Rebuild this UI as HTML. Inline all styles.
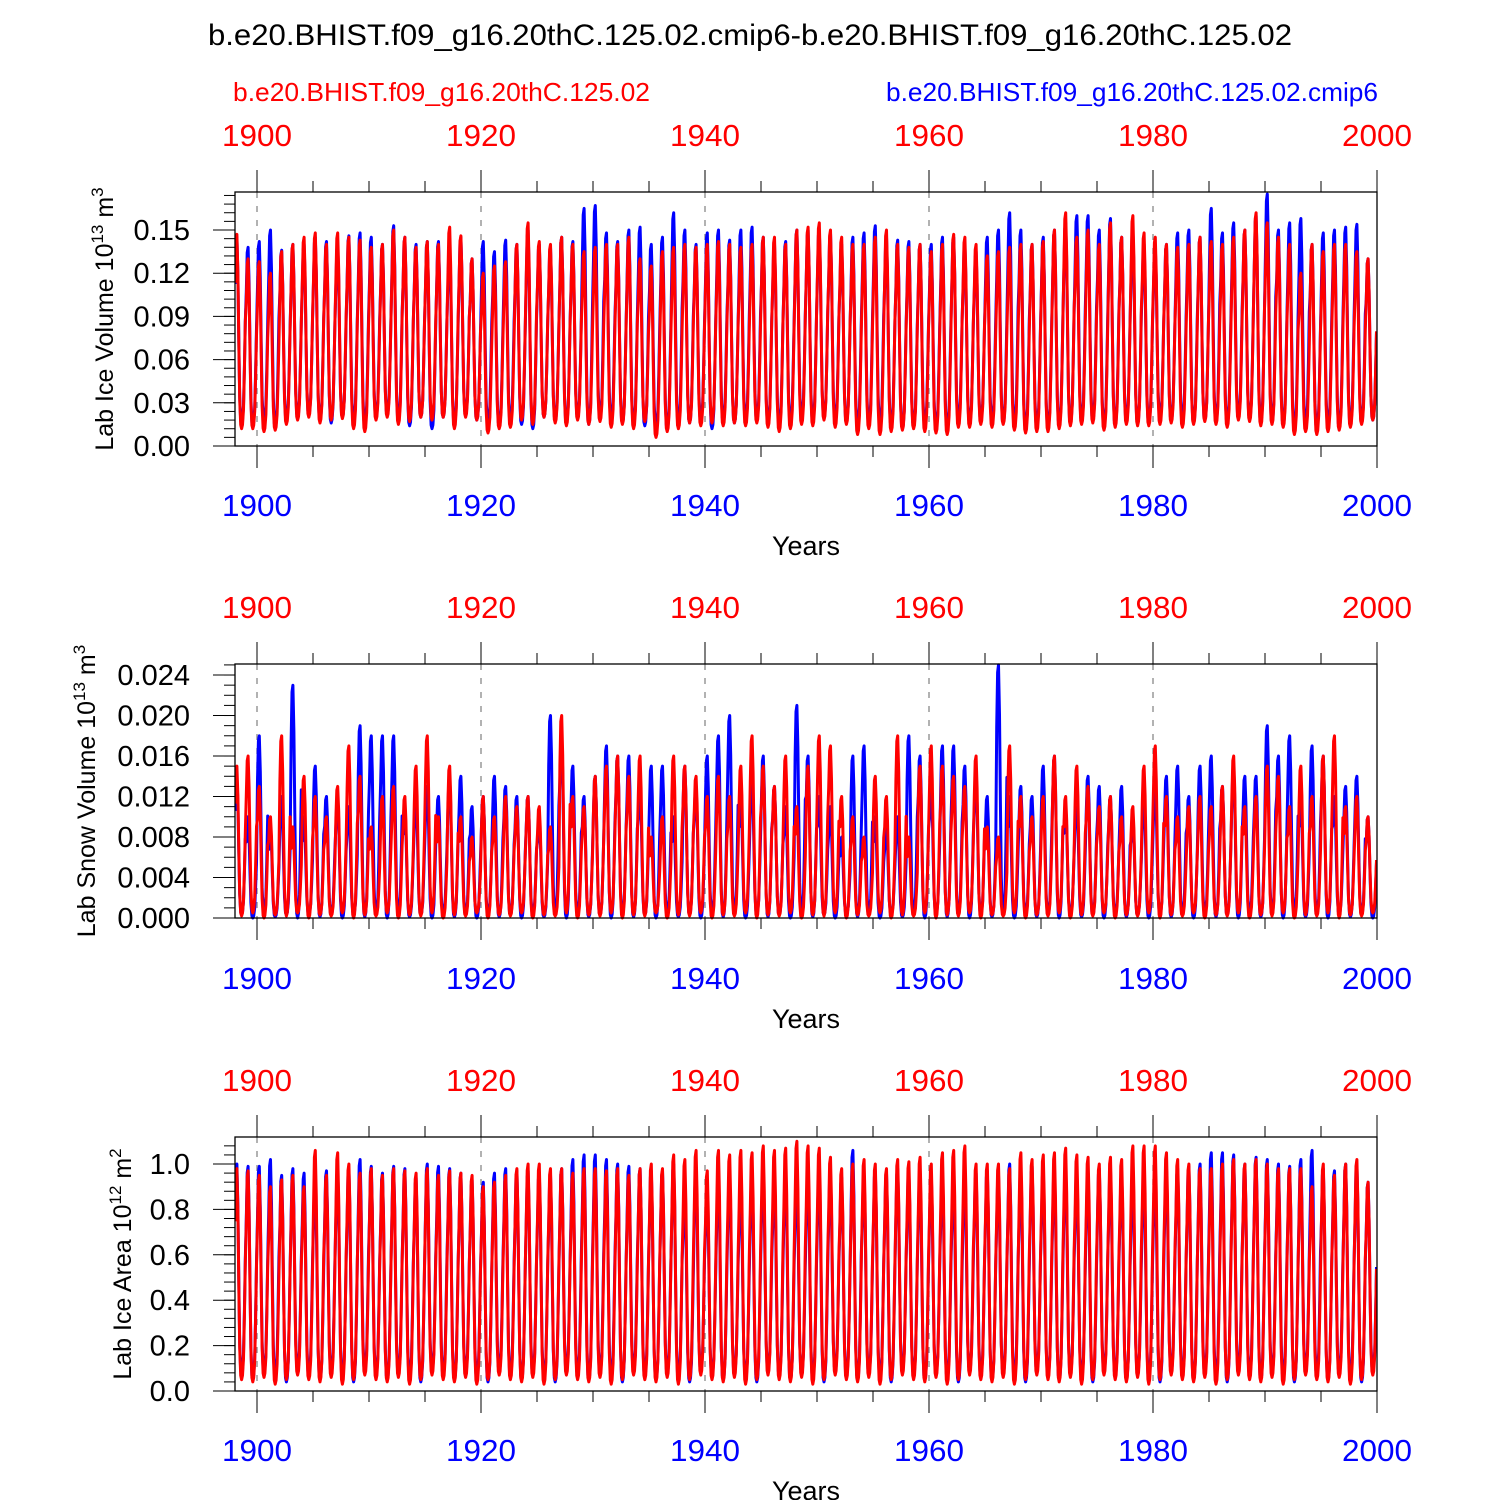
<!DOCTYPE html>
<html><head><meta charset="utf-8"><style>
html,body{margin:0;padding:0;background:#fff;width:1500px;height:1500px;overflow:hidden}
svg{display:block;font-family:"Liberation Sans",sans-serif}
</style></head><body>
<svg id="chart" width="1500" height="1500" viewBox="0 0 1500 1500">
<text x="750" y="45" text-anchor="middle" font-size="30" textLength="1084" lengthAdjust="spacingAndGlyphs">b.e20.BHIST.f09_g16.20thC.125.02.cmip6-b.e20.BHIST.f09_g16.20thC.125.02</text>
<text x="233" y="101" font-size="26" fill="#ff0000" textLength="417" lengthAdjust="spacingAndGlyphs">b.e20.BHIST.f09_g16.20thC.125.02</text>
<text x="1378" y="101" text-anchor="end" font-size="26" fill="#0000ff" textLength="492" lengthAdjust="spacingAndGlyphs">b.e20.BHIST.f09_g16.20thC.125.02.cmip6</text>
</svg>
<script>
// ---- data (annual peak / trough per year, 1898..1999) ----
const startYear = 1898;
const monthShape = [0.75,0.97,1.0,0.8,0.45,0.15,0.02,0.0,0.02,0.1,0.3,0.55];
const iceVolRedMax = [0.147,0.130,0.128,0.120,0.135,0.140,0.145,0.148,0.140,0.148,0.145,0.143,0.138,0.140,0.150,0.145,0.138,0.142,0.140,0.152,0.146,0.130,0.120,0.125,0.128,0.140,0.155,0.142,0.140,0.145,0.140,0.135,0.138,0.140,0.140,0.145,0.130,0.125,0.135,0.138,0.140,0.138,0.140,0.142,0.140,0.138,0.140,0.145,0.145,0.140,0.150,0.152,0.155,0.150,0.145,0.140,0.140,0.145,0.150,0.140,0.138,0.140,0.135,0.140,0.147,0.145,0.140,0.132,0.135,0.138,0.140,0.140,0.142,0.150,0.162,0.145,0.150,0.140,0.155,0.145,0.160,0.148,0.145,0.140,0.138,0.140,0.145,0.142,0.140,0.145,0.150,0.162,0.155,0.145,0.140,0.120,0.140,0.135,0.140,0.140,0.135,0.130];
const iceVolBlueMax = [0.145,0.138,0.142,0.150,0.136,0.140,0.140,0.145,0.142,0.140,0.146,0.148,0.145,0.140,0.153,0.145,0.140,0.142,0.142,0.140,0.145,0.130,0.142,0.135,0.143,0.140,0.150,0.140,0.138,0.145,0.142,0.165,0.167,0.148,0.142,0.150,0.152,0.140,0.145,0.162,0.150,0.140,0.148,0.150,0.143,0.150,0.152,0.145,0.140,0.142,0.150,0.150,0.150,0.148,0.140,0.145,0.148,0.153,0.145,0.143,0.142,0.140,0.140,0.145,0.145,0.140,0.135,0.145,0.150,0.162,0.150,0.140,0.145,0.150,0.155,0.160,0.160,0.150,0.158,0.145,0.150,0.140,0.138,0.140,0.148,0.150,0.145,0.165,0.148,0.155,0.150,0.160,0.175,0.150,0.155,0.158,0.140,0.148,0.150,0.152,0.154,0.130];
const iceVolRedMin = [0.012,0.012,0.010,0.011,0.015,0.018,0.020,0.016,0.018,0.019,0.012,0.010,0.018,0.020,0.015,0.017,0.020,0.018,0.020,0.012,0.020,0.018,0.009,0.012,0.013,0.018,0.015,0.020,0.016,0.014,0.018,0.015,0.017,0.013,0.015,0.012,0.017,0.006,0.010,0.012,0.016,0.014,0.016,0.014,0.016,0.014,0.016,0.013,0.010,0.012,0.015,0.014,0.018,0.013,0.015,0.008,0.012,0.008,0.010,0.011,0.012,0.010,0.009,0.008,0.013,0.013,0.015,0.013,0.015,0.011,0.009,0.010,0.010,0.012,0.014,0.015,0.016,0.011,0.013,0.015,0.014,0.014,0.015,0.016,0.013,0.015,0.017,0.015,0.013,0.018,0.017,0.014,0.015,0.013,0.008,0.010,0.008,0.010,0.011,0.013,0.015,0.018];
const iceVolBlueMin = [0.015,0.014,0.016,0.013,0.018,0.020,0.022,0.018,0.016,0.020,0.017,0.015,0.020,0.022,0.018,0.014,0.020,0.012,0.020,0.016,0.022,0.018,0.015,0.014,0.017,0.015,0.012,0.020,0.018,0.016,0.020,0.015,0.019,0.018,0.016,0.015,0.014,0.012,0.012,0.015,0.016,0.018,0.012,0.017,0.016,0.018,0.018,0.016,0.015,0.017,0.020,0.018,0.020,0.018,0.017,0.014,0.016,0.015,0.014,0.012,0.014,0.015,0.013,0.012,0.018,0.016,0.018,0.017,0.016,0.015,0.012,0.014,0.013,0.015,0.016,0.017,0.018,0.014,0.015,0.018,0.016,0.017,0.020,0.018,0.018,0.016,0.018,0.017,0.016,0.020,0.019,0.017,0.016,0.015,0.012,0.014,0.012,0.014,0.013,0.015,0.016,0.018];
const snowRedMax = [0.015,0.016,0.013,0.010,0.018,0.009,0.014,0.012,0.010,0.013,0.017,0.014,0.009,0.012,0.013,0.012,0.015,0.018,0.010,0.015,0.010,0.008,0.012,0.010,0.012,0.011,0.012,0.011,0.009,0.020,0.012,0.011,0.014,0.015,0.016,0.014,0.016,0.008,0.010,0.016,0.015,0.014,0.012,0.014,0.012,0.015,0.018,0.015,0.013,0.016,0.011,0.015,0.018,0.017,0.012,0.010,0.008,0.014,0.012,0.018,0.008,0.015,0.017,0.015,0.014,0.013,0.016,0.009,0.008,0.017,0.012,0.010,0.012,0.016,0.012,0.015,0.013,0.011,0.012,0.010,0.011,0.015,0.017,0.012,0.010,0.011,0.012,0.011,0.013,0.016,0.011,0.012,0.015,0.014,0.011,0.015,0.012,0.016,0.018,0.011,0.012,0.010];
const snowBlueMax = [0.014,0.010,0.018,0.009,0.012,0.023,0.010,0.015,0.012,0.012,0.011,0.019,0.018,0.018,0.018,0.011,0.012,0.013,0.012,0.014,0.014,0.011,0.012,0.014,0.013,0.012,0.012,0.010,0.020,0.018,0.015,0.012,0.014,0.017,0.016,0.016,0.013,0.015,0.015,0.010,0.015,0.013,0.016,0.018,0.020,0.012,0.014,0.016,0.013,0.011,0.021,0.016,0.012,0.011,0.008,0.016,0.017,0.010,0.009,0.010,0.018,0.016,0.013,0.017,0.017,0.015,0.014,0.012,0.025,0.012,0.013,0.012,0.015,0.016,0.011,0.012,0.014,0.013,0.012,0.013,0.010,0.012,0.013,0.014,0.015,0.012,0.015,0.016,0.013,0.015,0.014,0.014,0.019,0.016,0.018,0.012,0.017,0.016,0.012,0.013,0.014,0.010];
const snowRedMin = [0.0002,0.0005,0.0,0.0003,0.0002,0.0005,0.0,0.0003,0.0002,0.0005,0.0,0.0003,0.0002,0.0005,0.0,0.0003,0.0002,0.0005,0.0,0.0003,0.0002,0.0005,0.0,0.0003,0.0002,0.0005,0.0,0.0003,0.0002,0.0005,0.0,0.0003,0.0002,0.0005,0.0,0.0003,0.0002,0.0005,0.0,0.0003,0.0002,0.0005,0.0,0.0003,0.0002,0.0005,0.0,0.0003,0.0002,0.0005,0.0,0.0003,0.0002,0.0005,0.0,0.0003,0.0002,0.0005,0.0,0.0003,0.0002,0.0005,0.0,0.0003,0.0002,0.0005,0.0,0.0003,0.0002,0.0005,0.0,0.0003,0.0002,0.0005,0.0,0.0003,0.0002,0.0005,0.0,0.0003,0.0002,0.0005,0.0,0.0003,0.0002,0.0005,0.0,0.0003,0.0002,0.0005,0.0,0.0003,0.0002,0.0005,0.0,0.0003,0.0002,0.0005,0.0,0.0003,0.0002,0.0005];
const snowBlueMin = [0.0003,0.0,0.0004,0.0001,0.0003,0.0,0.0004,0.0001,0.0003,0.0,0.0004,0.0001,0.0003,0.0,0.0004,0.0001,0.0003,0.0,0.0004,0.0001,0.0003,0.0,0.0004,0.0001,0.0003,0.0,0.0004,0.0001,0.0003,0.0,0.0004,0.0001,0.0003,0.0,0.0004,0.0001,0.0003,0.0,0.0004,0.0001,0.0003,0.0,0.0004,0.0001,0.0003,0.0,0.0004,0.0001,0.0003,0.0,0.0004,0.0001,0.0003,0.0,0.0004,0.0001,0.0003,0.0,0.0004,0.0001,0.0003,0.0,0.0004,0.0001,0.0003,0.0,0.0004,0.0001,0.0003,0.0,0.0004,0.0001,0.0003,0.0,0.0004,0.0001,0.0003,0.0,0.0004,0.0001,0.0003,0.0,0.0004,0.0001,0.0003,0.0,0.0004,0.0001,0.0003,0.0,0.0004,0.0001,0.0003,0.0,0.0004,0.0001,0.0003,0.0,0.0004,0.0001,0.0003,0.0];
const areaRedMax = [0.98,0.97,0.95,0.90,0.93,0.95,0.90,1.06,0.95,1.05,1.00,0.96,0.98,0.95,0.98,0.97,0.96,0.98,0.95,0.97,0.96,0.95,0.90,0.92,0.95,0.98,1.00,1.00,0.98,0.98,0.96,0.98,0.98,0.97,0.98,0.95,0.98,1.00,0.98,1.04,1.02,1.06,0.97,1.06,1.04,1.06,1.05,1.08,1.06,1.07,1.10,1.08,1.07,1.03,0.98,1.00,1.02,1.00,0.98,1.02,1.01,1.03,1.00,1.05,1.06,1.08,1.00,1.00,1.00,0.98,1.05,1.02,1.04,1.05,1.07,1.04,1.03,1.00,1.03,1.02,1.08,1.08,1.08,1.05,1.02,1.00,0.98,0.98,1.00,1.02,1.00,1.02,1.00,0.98,0.98,0.98,0.90,1.00,0.95,1.00,1.02,0.92];
const areaBlueMax = [1.00,0.99,0.99,1.02,0.95,0.98,0.96,0.95,0.97,0.98,0.98,1.02,0.99,0.96,0.99,0.98,0.94,1.00,0.99,0.98,0.96,0.93,0.92,0.96,0.98,0.97,0.97,0.96,0.95,0.98,1.02,1.04,1.04,1.02,1.00,0.99,0.98,0.97,0.97,1.00,0.90,0.98,0.90,0.96,0.95,0.92,0.96,0.98,0.95,0.97,0.95,0.97,0.98,0.96,0.94,1.06,0.95,0.97,0.96,0.98,0.96,0.96,0.95,0.96,0.95,0.96,0.96,0.97,0.95,1.00,0.97,0.99,0.97,0.98,0.98,0.96,0.96,0.98,0.97,0.96,0.95,0.96,0.97,0.98,0.98,0.99,1.00,1.05,1.05,1.04,1.00,1.03,1.02,1.00,0.99,1.02,1.06,0.98,0.97,1.00,1.00,0.92];
const areaRedMin = [0.05,0.04,0.06,0.03,0.05,0.07,0.05,0.04,0.06,0.03,0.05,0.07,0.05,0.04,0.06,0.03,0.05,0.07,0.05,0.04,0.06,0.03,0.05,0.07,0.05,0.04,0.06,0.03,0.05,0.07,0.05,0.04,0.06,0.03,0.05,0.07,0.05,0.04,0.06,0.03,0.05,0.07,0.05,0.04,0.06,0.03,0.05,0.07,0.05,0.04,0.06,0.03,0.05,0.07,0.05,0.04,0.06,0.03,0.05,0.07,0.05,0.04,0.06,0.03,0.05,0.07,0.05,0.04,0.06,0.03,0.05,0.07,0.05,0.04,0.06,0.03,0.05,0.07,0.05,0.04,0.06,0.03,0.05,0.07,0.05,0.04,0.06,0.03,0.05,0.07,0.05,0.04,0.06,0.03,0.05,0.07,0.05,0.04,0.06,0.03,0.05,0.07];
const areaBlueMin = [0.07,0.05,0.08,0.06,0.04,0.09,0.07,0.05,0.08,0.06,0.04,0.09,0.07,0.05,0.08,0.06,0.04,0.09,0.07,0.05,0.08,0.06,0.04,0.09,0.07,0.05,0.08,0.06,0.04,0.09,0.07,0.05,0.08,0.06,0.04,0.09,0.07,0.05,0.08,0.06,0.04,0.09,0.07,0.05,0.08,0.06,0.04,0.09,0.07,0.05,0.08,0.06,0.04,0.09,0.07,0.05,0.08,0.06,0.04,0.09,0.07,0.05,0.08,0.06,0.04,0.09,0.07,0.05,0.08,0.06,0.04,0.09,0.07,0.05,0.08,0.06,0.04,0.09,0.07,0.05,0.08,0.06,0.04,0.09,0.07,0.05,0.08,0.06,0.04,0.09,0.07,0.05,0.08,0.06,0.04,0.09,0.07,0.05,0.08,0.06,0.04,0.09];

const panels = [
 {top:192,bot:446,ymax:0.1764,ticks:[0,0.03,0.06,0.09,0.12,0.15],dec:2,label:"Lab Ice Volume 10",exp:"13",unit:" m",uexp:"3",labX:113,rMax:iceVolRedMax,bMax:iceVolBlueMax,rMin:iceVolRedMin,bMin:iceVolBlueMin,redTop:135,blueBot:505,years:545,minor:0.006},
 {top:664,bot:918,ymax:0.02509,ticks:[0,0.004,0.008,0.012,0.016,0.020,0.024],dec:3,label:"Lab Snow Volume 10",exp:"13",unit:" m",uexp:"3",labX:95,rMax:snowRedMax,bMax:snowBlueMax,rMin:snowRedMin,bMin:snowBlueMin,redTop:607,blueBot:978,years:1018,minor:0.001},
 {top:1137,bot:1391,ymax:1.119,ticks:[0,0.2,0.4,0.6,0.8,1.0],dec:1,label:"Lab Ice Area 10",exp:"12",unit:" m",uexp:"2",labX:131,rMax:areaRedMax,bMax:areaBlueMax,rMin:areaRedMin,bMin:areaBlueMin,redTop:1080,blueBot:1450,years:1490,minor:0.04}
];
const svg=document.getElementById('chart');
const NS='http://www.w3.org/2000/svg';
function mk(t,a,p){const e=document.createElementNS(NS,t);for(const k in a)e.setAttribute(k,a[k]);(p||svg).appendChild(e);return e;}
const X0=235,X1=1377;
const xs=y=>257+(y-1900)*11.2;
panels.forEach((P,pi)=>{
 const g=mk('g',{});
 
 
 const ys=v=>P.bot-(v/P.ymax)*(P.bot-P.top);
 for(let y=1900;y<=1980;y+=20){const l=mk('line',{x1:xs(y),x2:xs(y),y1:P.top,y2:P.bot,stroke:'#888','stroke-width':1.3,'stroke-dasharray':'6,8'},g);
  }
 for(let y=1900;y<=2000;y+=5){const maj=y%20===0;const L=maj?22:11;
  mk('line',{x1:xs(y),x2:xs(y),y1:P.top-L,y2:P.top,stroke:'#000','stroke-width':1},g);
  mk('line',{x1:xs(y),x2:xs(y),y1:P.bot,y2:P.bot+L,stroke:'#000','stroke-width':1},g);
  if(maj){
   const t1=mk('text',{x:xs(y),y:P.redTop+11,'text-anchor':'middle','font-size':31,fill:'#ff0000',textLength:70,lengthAdjust:'spacingAndGlyphs'},g);t1.textContent=y;
   
   const t2=mk('text',{x:xs(y),y:P.blueBot+11,'text-anchor':'middle','font-size':31,fill:'#0000ff',textLength:70,lengthAdjust:'spacingAndGlyphs'},g);t2.textContent=y;
   
  }}
 const yt=mk('text',{x:806,y:P.years+10,'text-anchor':'middle','font-size':27},g);yt.textContent='Years';
 
 for(let v=0;v<=P.ymax+1e-9;v+=P.minor){mk('line',{x1:X0-11,x2:X0,y1:ys(v),y2:ys(v),stroke:'#000','stroke-width':1},g);}
 P.ticks.forEach(v=>{mk('line',{x1:X0-22,x2:X0,y1:ys(v),y2:ys(v),stroke:'#000','stroke-width':1},g);
  const t=mk('text',{x:X0-45,y:ys(v)+10,'text-anchor':'end','font-size':29},g);t.textContent=v.toFixed(P.dec);
  });
 const cy=(P.top+P.bot)/2;
 const lab=mk('text',{x:P.labX,y:cy,'text-anchor':'middle','font-size':25,transform:`rotate(-90 ${P.labX} ${cy})`},g);
 lab.innerHTML=P.label+'<tspan dy="-10" font-size="17">'+P.exp+'</tspan><tspan dy="10">'+P.unit+'</tspan><tspan dy="-10" font-size="17">'+P.uexp+'</tspan>';
 
 const clip=mk('clipPath',{id:'c'+pi},g);mk('rect',{x:X0,y:P.top-3,width:X1-X0,height:P.bot-P.top+6},clip);
 [[P.bMax,P.bMin,'#0000ff','blue'],[P.rMax,P.rMin,'#ff0000','red']].forEach(([mx,mn,col,nm])=>{
  let d='';
  for(let i=0;i<mx.length;i++)for(let m=0;m<12;m++){
   const v=mn[i]+(mx[i]-mn[i])*monthShape[m];
   const x=xs(startYear+i+(m+0.5)/12);
   d+=(d?'L':'M')+x.toFixed(1)+','+ys(v).toFixed(1);}
  const p=mk('path',{d,fill:'none',stroke:col,'stroke-width':3,'stroke-linejoin':'round','clip-path':`url(#c${pi})`},g);
  
 });
 const fr=mk('rect',{x:X0,y:P.top,width:X1-X0,height:P.bot-P.top,fill:'none',stroke:'#000','stroke-width':1.3},g);
 
});
</script>
</body></html>
